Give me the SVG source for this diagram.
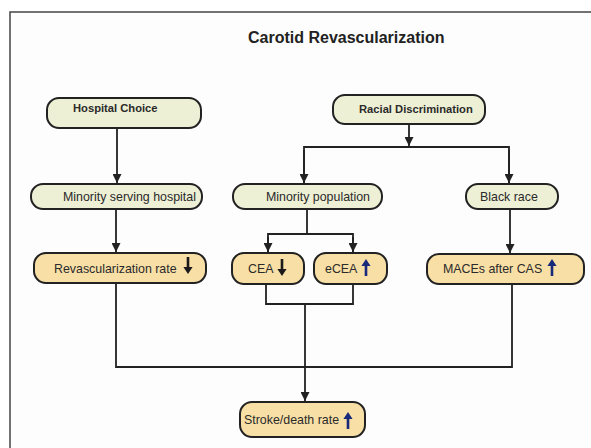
<svg xmlns="http://www.w3.org/2000/svg" width="591" height="448" viewBox="0 0 591 448">
<defs>
<style>
.g{fill:#eef0d6;stroke:#222;stroke-width:2}
.o{fill:#f8dfa6;stroke:#222;stroke-width:2}
.t{font-family:"Liberation Sans",Arial,sans-serif;font-size:12.4px;fill:#2a2a2a}
.b{font-family:"Liberation Sans",Arial,sans-serif;font-size:11.2px;font-weight:bold;fill:#2a2a2a}
.c{fill:none;stroke:#222;stroke-width:1.8}
.up{fill:#1a2a7a}
.dn{fill:#1a1a1a}
</style>
<marker id="ah" viewBox="0 0 10 10" refX="10" refY="5" markerWidth="5" markerHeight="5" orient="auto" markerUnits="strokeWidth">
<path d="M0,0 L10,5 L0,10 z" fill="#222"/>
</marker>
<path id="uparr" d="M-1.3,8 L-1.3,-2 L-4.6,-2 L0,-9 L4.6,-2 L1.3,-2 L1.3,8 z"/>
</defs>
<rect x="10" y="12" width="581" height="436" fill="#fdfdfd"/>
<path d="M10,448 L10,12 L591,12" fill="none" stroke="#444" stroke-width="1.5"/>
<text x="248" y="43" font-family="'Liberation Sans',Arial,sans-serif" font-size="16" font-weight="bold" fill="#222">Carotid Revascularization</text>

<g id="connectors">
<path class="c" d="M117,128 L117,183" marker-end="url(#ah)"/>
<path class="c" d="M116,209 L116,252" marker-end="url(#ah)"/>
<path class="c" d="M409,124 L409,146" marker-end="url(#ah)"/>
<path class="c" d="M304,183 L304,147 L509,147 L509,183"/>
<path class="c" d="M304,150 L304,183" marker-end="url(#ah)"/>
<path class="c" d="M509,150 L509,183" marker-end="url(#ah)"/>
<path class="c" d="M307,209 L307,234"/>
<path class="c" d="M268,252 L268,234 L353,234 L353,252"/>
<path class="c" d="M268,237 L268,252" marker-end="url(#ah)"/>
<path class="c" d="M353,237 L353,252" marker-end="url(#ah)"/>
<path class="c" d="M510,209 L510,253" marker-end="url(#ah)"/>
<path class="c" d="M116,283 L116,367 L512,367 L512,284"/>
<path class="c" d="M266,284 L266,304 L353,304 L353,284"/>
<path class="c" d="M305,304 L305,401" marker-end="url(#ah)"/>
</g>

<g id="hospital-choice">
<rect class="g" x="47" y="98" width="154" height="30" rx="12"/>
<text class="b" x="73" y="112">Hospital Choice</text>
</g>
<g id="racial-discrimination">
<rect class="g" x="333" y="95" width="152" height="29" rx="12"/>
<text class="b" x="359" y="113">Racial Discrimination</text>
</g>
<g id="minority-serving-hospital">
<rect class="g" x="31" y="184" width="171" height="25" rx="12"/>
<text class="t" x="63" y="201">Minority serving hospital</text>
</g>
<g id="minority-population">
<rect class="g" x="233" y="184" width="149" height="25" rx="12"/>
<text class="t" x="266" y="201">Minority population</text>
</g>
<g id="black-race">
<rect class="g" x="466" y="184" width="92" height="25" rx="12"/>
<text class="t" x="480" y="201">Black race</text>
</g>
<g id="revascularization-rate">
<rect class="o" x="34" y="253" width="172" height="30" rx="12"/>
<text class="t" x="54" y="273">Revascularization rate</text>
<use href="#uparr" class="dn" transform="translate(188,265) rotate(180)"/>
</g>
<g id="cea">
<rect class="o" x="232" y="253" width="72" height="31" rx="12"/>
<text class="t" x="248" y="273">CEA</text>
<use href="#uparr" class="dn" transform="translate(282,267) rotate(180)"/>
</g>
<g id="ecea">
<rect class="o" x="314" y="253" width="73" height="31" rx="12"/>
<text class="t" x="325" y="273">eCEA</text>
<use href="#uparr" class="up" transform="translate(366,268)"/>
</g>
<g id="maces-after-cas">
<rect class="o" x="427" y="254" width="157" height="30" rx="12"/>
<text class="t" x="443" y="273">MACEs after CAS</text>
<use href="#uparr" class="up" transform="translate(552,268)"/>
</g>
<g id="stroke-death-rate">
<rect class="o" x="240" y="402" width="125" height="35" rx="12"/>
<text class="t" x="244" y="424">Stroke/death rate</text>
<use href="#uparr" class="up" transform="translate(348,421)"/>
</g>
</svg>
